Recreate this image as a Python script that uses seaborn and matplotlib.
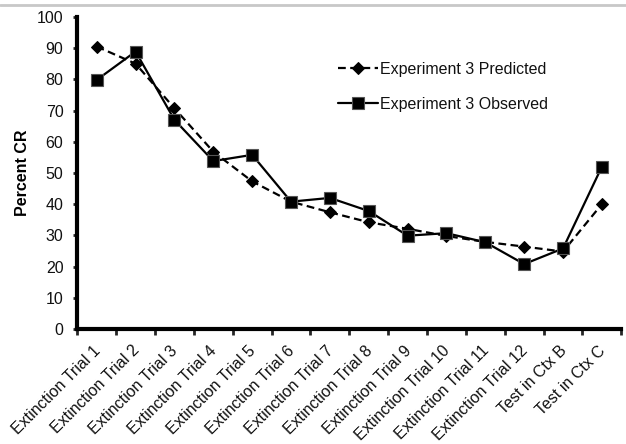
import matplotlib
matplotlib.use("Agg")
import matplotlib.pyplot as plt
import matplotlib.transforms as mtrans
import seaborn as sns
import pandas as pd
from matplotlib.lines import Line2D

categories = ["Extinction Trial 1", "Extinction Trial 2", "Extinction Trial 3",
              "Extinction Trial 4", "Extinction Trial 5", "Extinction Trial 6",
              "Extinction Trial 7", "Extinction Trial 8", "Extinction Trial 9",
              "Extinction Trial 10", "Extinction Trial 11", "Extinction Trial 12",
              "Test in Ctx B", "Test in Ctx C"]
predicted = [90.5, 85, 70.7, 56.8, 47.3, 40.8, 37.4, 34.2, 32.1, 29.8, 27.9, 26.4, 24.8, 40]
observed = [79.8, 88.9, 67, 53.8, 55.8, 40.8, 42, 37.8, 29.9, 30.7, 27.8, 20.8, 25.8, 52]
series_names = ["Experiment 3 Predicted", "Experiment 3 Observed"]
yticks = list(range(0, 101, 10))

sns.set_theme(style="white")
plt.rcParams['font.family'] = ['Liberation Sans', 'DejaVu Sans']
FS = 11.5

fig = plt.figure(figsize=(6.26, 4.44), dpi=100)
ax = fig.add_axes([0.1235, 0.259, 0.869, 0.703])

pos = list(range(len(categories)))
df_pred = pd.DataFrame({"x": pos, "y": predicted})
df_obs = pd.DataFrame({"x": pos, "y": observed})

sns.lineplot(data=df_pred, x="x", y="y", ax=ax, color="black", linewidth=1.6,
             linestyle=(0, (3.5, 2)), marker="D", markersize=6.5, markeredgecolor="black",
             label=series_names[0])
sns.lineplot(data=df_obs, x="x", y="y", ax=ax, color="black", linewidth=1.6,
             linestyle="-", marker="s", markersize=8, markeredgecolor="#555555",
             markeredgewidth=0.8, label=series_names[1])

ax.set_xlim(-0.5, len(categories) - 0.5)
ax.set_ylim(0, 100)
ax.set_yticks(yticks)
ax.set_yticklabels([str(v) for v in yticks], fontsize=FS, color="#111111")
ax.set_xticks(pos)
ax.set_xticklabels(categories, rotation=45, ha="right", va="center_baseline",
                   rotation_mode="anchor", fontsize=FS, color="#111111")
shift = mtrans.ScaledTranslation(-3 / 72, 0, fig.dpi_scale_trans)
for lbl in ax.get_xticklabels():
    lbl.set_transform(lbl.get_transform() + shift)
ax.set_xticks([p - 0.5 for p in pos] + [len(categories) - 0.5], minor=True)
ax.tick_params(axis="x", which="major", length=0, pad=13)
ax.tick_params(axis="x", which="minor", length=4, width=2, direction="out", bottom=True)
ax.tick_params(axis="y", which="major", length=3, width=2, direction="out", left=True, pad=7)
ax.set_xlabel("")
ax.set_ylabel("Percent CR", fontsize=FS, fontweight="bold", color="#000000", labelpad=5)

for s in ["top", "right"]:
    ax.spines[s].set_visible(False)
for s in ["left", "bottom"]:
    ax.spines[s].set_linewidth(3)
    ax.spines[s].set_color("black")
ax.grid(False)

leg = ax.legend(loc="upper left", bbox_to_anchor=(330 / 626, 1 - 54 / 444),
                bbox_transform=fig.transFigure, frameon=False, fontsize=FS,
                handlelength=2.5, handletextpad=0.1, labelspacing=1.25, borderpad=0)
for t in leg.get_texts():
    t.set_color("#111111")

fig.add_artist(Line2D([0, 1], [1 - 5 / 444, 1 - 5 / 444], transform=fig.transFigure,
                      color="#c8c8c8", linewidth=2))

fig.savefig("out.png", dpi=100)
